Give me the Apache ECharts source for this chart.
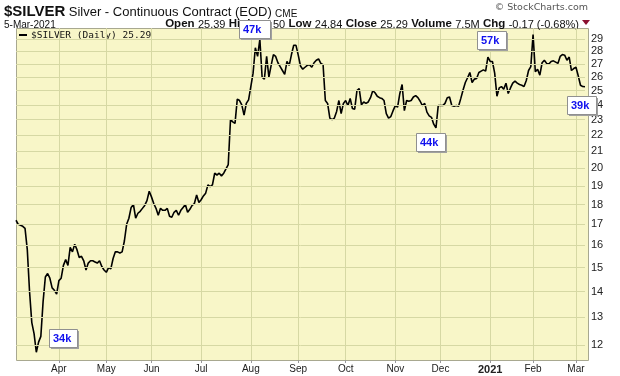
<!DOCTYPE html>
<html><head><meta charset="utf-8">
<script src="https://cdn.jsdelivr.net/npm/echarts@6/dist/echarts.min.js"></script>
<style>html,body{margin:0;padding:0;background:#fff}#c{width:620px;height:376px}</style>
</head><body><div id="c"></div>
<script>
// ---- data ----
const startDate = '2020-03-05';
const endDate = '2021-03-05';
const holidays = ['2020-04-10','2020-05-25','2020-07-03','2020-09-07','2020-11-26','2020-12-25','2021-01-01','2021-01-18','2021-02-15'];
const monthLabels = ['Jan','Feb','Mar','Apr','May','Jun','Jul','Aug','Sep','Oct','Nov','Dec'];
const yTicks = [12,13,14,15,16,17,18,19,20,21,22,23,24,25,26,27,28,29];
const closes = [
 17.2, 17.0, 16.95, 16.9, 16.8, 15.8, 14.0, 12.8, 12.4, 11.75,
 12.1, 12.3, 13.6, 14.6, 14.75, 14.55, 14.15, 14.05, 13.9, 14.45,
 14.55, 15.1, 15.35, 15.1, 15.9, 15.7, 16.05, 15.8, 15.45, 15.5,
 15.3, 14.9, 15.2, 15.3, 15.3, 15.25, 15.2, 15.3, 15.05, 14.9,
 14.8, 15.0, 14.95, 15.4, 15.7, 15.7, 15.65, 15.7, 16.2, 17.0,
 17.3, 17.85, 18.0, 17.3, 17.55, 17.65, 17.8, 17.95, 18.2, 18.7,
 18.4, 18.05, 17.8, 17.45, 17.8, 17.7, 17.7, 17.8, 17.4, 17.35,
 17.6, 17.7, 17.45, 17.7, 17.85, 18.0, 17.6, 17.75, 17.95, 18.05,
 18.5, 18.1, 18.25, 18.45, 18.6, 19.05, 18.95, 19.05, 19.7, 19.6,
 19.7, 19.55, 19.7, 19.95, 20.2, 23.0, 22.85, 22.75, 24.4, 24.3,
 24.0, 23.3, 24.1, 24.35, 25.3, 26.3, 28.3, 27.6, 29.0, 26.0,
 25.85, 27.6, 26.0, 26.9, 27.75, 27.6, 27.1, 26.8, 26.5, 26.2,
 27.2, 26.9, 27.75, 28.5, 28.5, 27.7, 26.85, 26.6, 26.75, 26.9,
 26.95, 26.75, 27.1, 27.3, 27.4, 27.05, 26.95, 24.3, 24.1, 23.1,
 23.0, 23.1, 23.55, 24.3, 23.4, 24.1, 24.3, 23.95, 24.45, 23.75,
 23.7, 25.0, 25.15, 24.0, 24.2, 24.1, 24.2, 24.5, 25.0, 24.85,
 24.6, 24.5, 24.45, 24.3, 23.4, 23.1, 23.2, 23.6, 23.95, 23.85,
 24.8, 25.45, 23.6, 24.3, 24.25, 24.3, 24.55, 24.65, 24.5, 24.25,
 23.95, 24.1, 23.5, 23.25, 23.15, 22.7, 22.45, 23.95, 23.95, 23.95,
 24.1, 24.5, 24.55, 23.95, 23.9, 23.95, 23.9, 24.45, 25.05, 25.6,
 25.95, 26.35, 25.6, 25.85, 25.9, 26.35, 26.45, 26.55, 26.45, 27.55,
 27.2, 27.2, 26.3, 24.6, 25.2, 25.3, 25.1, 25.55, 24.8, 25.2,
 25.55, 25.7, 25.55, 25.45, 25.4, 25.3, 25.75, 26.5, 26.8, 29.4,
 26.4, 26.6, 26.15, 27.1, 27.3, 27.05, 27.0, 27.2, 27.25, 27.15,
 27.05, 27.6, 27.75, 27.7, 27.3, 27.55, 26.5, 26.65, 26.75, 26.1,
 25.4, 25.3, 25.29
];
const volumeNotes = ['34k','47k','57k','44k','39k'];
// ---- build trading-day categories ----
function tradingDays(){
  const out=[]; let d=new Date(startDate+'T00:00:00Z'); const e=new Date(endDate+'T00:00:00Z');
  while(d<=e){ const dow=d.getUTCDay(); const s=d.toISOString().slice(0,10);
    if(dow!==0&&dow!==6&&holidays.indexOf(s)<0) out.push(s);
    d=new Date(d.getTime()+86400000); }
  return out;
}
const dates = tradingDays();
function isMonthStart(i){ return i>0 && dates[i].slice(0,7)!==dates[i-1].slice(0,7); }
const GRID = '#d6d8a4';
const chart = echarts.init(document.getElementById('c'), null, {renderer:'canvas'});
const noteBoxes = [[49,329,28],[239,20,31],[477,31,29],[416,133,29],[567,96,29]];
const noteGraphics = [];
noteBoxes.forEach((b,i)=>{
  noteGraphics.push({type:'rect', shape:{x:b[0]+2,y:b[1]+2,width:b[2],height:18}, style:{fill:'#a0a0a0'}, z:100, silent:true});
  noteGraphics.push({type:'rect', shape:{x:b[0]+0.5,y:b[1]+0.5,width:b[2],height:18}, style:{fill:'#ffffff',stroke:'#909090',lineWidth:1}, z:101, silent:true});
  noteGraphics.push({type:'text', x:b[0]+4, y:b[1]+10, style:{text:volumeNotes[i], font:'bold 11px "Liberation Sans", Arial', fill:'#1010ee', textVerticalAlign:'middle'}, z:102, silent:true});
});
chart.setOption({
  animation:false,
  backgroundColor:'#ffffff',
  grid:{left:16, top:28, width:569, height:332, containLabel:false},
  xAxis:{type:'category', data:dates, boundaryGap:false,
    axisLine:{show:false},
    axisTick:{show:true, interval:(i)=>isMonthStart(i), length:3, lineStyle:{color:'#999'}},
    splitLine:{show:true, interval:(i)=>isMonthStart(i), lineStyle:{color:GRID, width:1}},
    axisLabel:{interval:(i)=>isMonthStart(i), margin:4, fontSize:10, color:'#222', fontFamily:'"Liberation Sans", Arial',
      formatter:(v)=>{ const m=+v.slice(5,7); return m===1 ? '{b|'+v.slice(0,4)+'}' : monthLabels[m-1]; },
      rich:{b:{fontWeight:'bold', fontSize:11, color:'#222', fontFamily:'"Liberation Sans", Arial'}}}
  },
  yAxis:{type:'log', logBase:10, min:11.49, max:29.96, position:'right',
    axisLine:{show:false}, axisTick:{show:false}, axisLabel:{show:false}, splitLine:{show:false}},
  series:[
    {type:'line', name:'grid', data:[], z:1, silent:true,
     markLine:{silent:true, symbol:'none', animation:false,
       lineStyle:{color:GRID, type:'solid', width:1},
       label:{position:'end', distance:6, formatter:(p)=>String(p.value), color:'#222', fontSize:11, fontFamily:'"Liberation Sans", Arial'},
       data: yTicks.map(v=>({yAxis:v}))}},
    {type:'line', name:'$SILVER', data:closes, symbol:'none', z:3,
     lineStyle:{color:'#000', width:1.6}}
  ],
  graphic:[
    {type:'rect', shape:{x:16.5,y:28.5,width:572,height:332}, style:{fill:'#f8f6c8', stroke:'#a8a890', lineWidth:1}, z:-10, silent:true},
    {type:'text', x:4, y:19, style:{text:'{a|$SILVER} {b|Silver - Continuous Contract (EOD)} {c|CME}', textVerticalAlign:'bottom',
      rich:{a:{font:'bold 15px "Liberation Sans", Arial', fill:'#111', verticalAlign:'bottom'},
            b:{font:'13px "Liberation Sans", Arial', fill:'#111', verticalAlign:'bottom'},
            c:{font:'10px "Liberation Sans", Arial', fill:'#111', verticalAlign:'bottom'}}}, silent:true},
    {type:'text', x:4, y:30, style:{text:'5-Mar-2021', font:'10px "Liberation Sans", Arial', fill:'#111', textVerticalAlign:'bottom'}, silent:true},
    {type:'text', x:579, y:30, style:{text:'{l|Open} {v|25.39} {l|High} {v|25.50} {l|Low} {v|24.84} {l|Close} {v|25.29} {l|Volume} {v|7.5M} {l|Chg} {v|-0.17 (-0.68%)}',
      textAlign:'right', textVerticalAlign:'bottom',
      rich:{l:{font:'bold 11.5px "Liberation Sans", Arial', fill:'#111', verticalAlign:'bottom'},
            v:{font:'11px "Liberation Sans", Arial', fill:'#111', verticalAlign:'bottom'}}}, silent:true},
    {type:'polygon', shape:{points:[[582,20],[590,20],[586,25]]}, style:{fill:'#8b1030'}, silent:true},
    {type:'text', x:588, y:3, style:{text:'\u00A9 StockCharts.com', font:'9.5px "DejaVu Sans", Verdana', fill:'#555', textAlign:'right', textVerticalAlign:'top'}, silent:true},
    {type:'rect', shape:{x:19,y:34,width:8,height:2}, style:{fill:'#000'}, silent:true},
    {type:'text', x:31, y:35.5, style:{text:'$SILVER (Daily) 25.29', font:'9.5px "DejaVu Sans Mono", monospace', fill:'#111', textVerticalAlign:'middle'}, silent:true}
  ].concat(noteGraphics)
});
</script></body></html>
